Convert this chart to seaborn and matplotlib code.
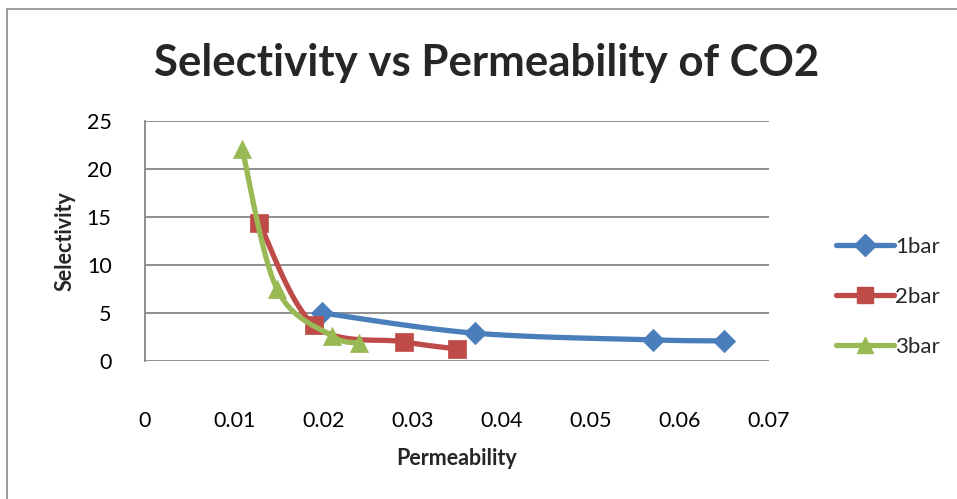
import numpy as np
import pandas as pd
import matplotlib
matplotlib.use("Agg")
import matplotlib.pyplot as plt
from matplotlib.lines import Line2D
from matplotlib.patches import Rectangle
import seaborn as sns

# Measured permeability / selectivity pairs for each feed pressure
perm_1bar = [0.0199, 0.0370, 0.0570, 0.0650]
sel_1bar = [5.0, 2.9, 2.2, 2.1]

perm_2bar = [0.0128, 0.0190, 0.0290, 0.0350]
sel_2bar = [14.4, 3.7, 2.0, 1.25]

perm_3bar = [0.0109, 0.0148, 0.0210, 0.0240]
sel_3bar = [22.1, 7.5, 2.6, 1.9]

series_names = ["1bar", "2bar", "3bar"]
x_ticks = [0, 0.01, 0.02, 0.03, 0.04, 0.05, 0.06, 0.07]
x_tick_labels = ["0", "0.01", "0.02", "0.03", "0.04", "0.05", "0.06", "0.07"]
y_ticks = [0, 5, 10, 15, 20, 25]

sns.set_theme(style="white")
plt.rcParams["font.family"] = ["Lato", "DejaVu Sans"]

colors = {"1bar": "#4A7EBB", "2bar": "#BE4B48", "3bar": "#98B954"}
markers = {"1bar": "D", "2bar": "s", "3bar": "^"}
msizes = {"1bar": 130, "2bar": 150, "3bar": 170}

W, H = 957, 499
fig = plt.figure(figsize=(W / 100, H / 100), dpi=100)
ax = fig.add_axes([145 / W, 1 - 361 / H, (769 - 145) / W, (361 - 121) / H])
ax.set_xlim(0, 0.07)
ax.set_ylim(0, 25)

data = {
    "1bar": (perm_1bar, sel_1bar),
    "2bar": (perm_2bar, sel_2bar),
    "3bar": (perm_3bar, sel_3bar),
}


def smooth_curve(xs, ys, n=40):
    """Excel-style smoothed line: Catmull-Rom Bezier built in screen space."""
    pts = ax.transData.transform(np.column_stack([xs, ys]))
    out = [pts[0]]
    m = len(pts)
    for i in range(m - 1):
        p0 = pts[i - 1] if i > 0 else pts[i]
        p1 = pts[i]
        p2 = pts[i + 1]
        p3 = pts[i + 2] if i + 2 < m else pts[i + 1]
        c1 = p1 + (p2 - p0) / 6.0
        c2 = p2 - (p3 - p1) / 6.0
        t = np.linspace(0, 1, n)[1:, None]
        seg = ((1 - t) ** 3) * p1 + 3 * ((1 - t) ** 2) * t * c1 + 3 * (1 - t) * t ** 2 * c2 + t ** 3 * p2
        out.extend(seg)
    out = ax.transData.inverted().transform(np.array(out))
    return out[:, 0], out[:, 1]


for k, name in enumerate(series_names):
    xs, ys = data[name]
    cx, cy = smooth_curve(xs, ys)
    curve = pd.DataFrame({"perm": cx, "sel": cy, "step": np.arange(len(cx))})
    sns.lineplot(data=curve, x="perm", y="sel", sort=False, estimator=None,
                 color=colors[name], linewidth=3.8, ax=ax, zorder=3 + 2 * k,
                 solid_capstyle="round")
    pts = pd.DataFrame({"perm": xs, "sel": ys})
    sns.scatterplot(data=pts, x="perm", y="sel", marker=markers[name],
                    s=msizes[name], color=colors[name], edgecolor=colors[name],
                    linewidth=0.5, ax=ax, zorder=4 + 2 * k, clip_on=False)

ax.set_xlim(0, 0.07)
ax.set_ylim(0, 25)
ax.set_xticks(x_ticks)
ax.set_xticklabels(x_tick_labels)
ax.set_yticks(y_ticks)
ax.tick_params(axis="both", length=0, labelsize=15.5, colors="black")
ax.tick_params(axis="x", pad=36)
ax.tick_params(axis="y", pad=24)
ax.yaxis.grid(True, color="#868686", linewidth=1.3)
ax.xaxis.grid(False)
for side in ["top", "right", "bottom"]:
    ax.spines[side].set_visible(False)
ax.spines["left"].set_color("#868686")
ax.spines["left"].set_linewidth(1.3)

ax.set_xlabel("Permeability", fontsize=15.5, fontweight="bold", labelpad=12)
ax.set_ylabel("Selectivity", fontsize=15.5, fontweight="bold", labelpad=8)

fig.text(487 / W, 1 - 63 / H, "Selectivity vs Permeability of CO2",
         ha="center", va="center", fontsize=31.5, fontweight="bold")

handles = [Line2D([0], [0], color=colors[n], linewidth=3.8, marker=markers[n],
                  markersize=11, markerfacecolor=colors[n], markeredgecolor=colors[n],
                  solid_capstyle="round")
           for n in series_names]
fig.legend(handles, series_names, loc="center left",
           bbox_to_anchor=(816 / W, 1 - 297 / H), frameon=False, fontsize=16,
           handlelength=2.6, handletextpad=0.05, labelspacing=1.35)

fig.add_artist(Rectangle((7 / W, -0.05), 1.1, 1 - 9 / H + 0.05,
                         transform=fig.transFigure, fill=False,
                         edgecolor="#8c8c8c", linewidth=1.2))

fig.savefig("out.png", dpi=100, facecolor="white")
